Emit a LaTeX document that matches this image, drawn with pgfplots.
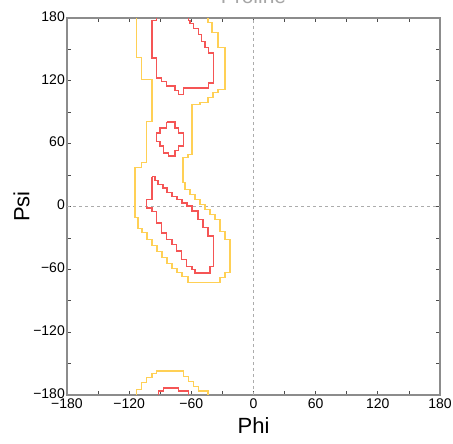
\documentclass[border=0pt]{standalone}
\usepackage{pgfplots}
\pgfplotsset{compat=1.18}
\usepackage{fontspec}
\setmainfont{Liberation Sans}
\definecolor{ycont}{RGB}{255,208,85}
\definecolor{rcont}{RGB}{245,85,85}
\definecolor{frame}{RGB}{140,140,140}

\begin{document}
\begin{tikzpicture}
\begin{axis}[
  scale only axis,
  width=373pt, height=377pt,
  xmin=-180, xmax=180, ymin=-180, ymax=180,
  xtick={-180,-150,...,180},
  ytick={-180,-150,...,180},
  xticklabels={−180,,−120,,−60,,0,,60,,120,,180},
  yticklabels={−180,,−120,,−60,,0,,60,,120,,180},
  tick label style={font=\fontsize{14}{15}\selectfont},
  xticklabel style={inner sep=1pt, yshift=-2.5pt},
  yticklabel style={inner sep=2pt, yshift=1.5pt},
  xlabel={Phi}, ylabel={Psi},
  label style={font=\fontsize{22}{24}\selectfont},
  xlabel style={at={(axis description cs:0.5,-0.08)}, anchor=center},
  ylabel style={at={(axis description cs:-0.122,0.5)}, anchor=center},
  axis line style={frame, line width=1.1pt},
  major tick length=4pt,
  tick style={black!70, line width=0.8pt},
]
% zero lines
\addplot[gray!65, dashed, line width=0.8pt] coordinates {(0,-180) (0,180)};
\addplot[gray!65, dashed, line width=0.8pt] coordinates {(-180,0) (180,0)};

% outer contour (yellow)
\addplot[ycont, line width=1.5pt] coordinates {
(-112.7,180) (-112.7,142.3) (-107.9,142.3) (-107.9,121.3) (-98.2,121.3) (-98.2,81.4)
(-103.1,81.4) (-103.1,42.0) (-107.9,42.0) (-107.9,37.2) (-114.4,37.2) (-114.4,-10.5)
(-111.5,-10.5) (-111.5,-21.0) (-107.6,-21.0) (-107.6,-24.9) (-102.8,-24.9) (-102.8,-31.6)
(-98.0,-31.6) (-98.0,-37.3) (-93.1,-37.3) (-93.1,-43.0) (-88.3,-43.0) (-88.3,-48.8)
(-83.5,-48.8) (-83.5,-54.5) (-78.6,-54.5) (-78.6,-59.3) (-73.8,-59.3) (-73.8,-63.1)
(-69.0,-63.1) (-69.0,-66.9) (-63.2,-66.9) (-63.2,-72.6) (-32.3,-72.6) (-32.3,-67.8)
(-27.5,-67.8) (-27.5,-63.1) (-22.7,-63.1) (-22.7,-31.6) (-27.5,-31.6) (-27.5,-23.9)
(-32.3,-23.9) (-32.3,-12.5) (-37.1,-12.5) (-37.1,-7.7) (-42.0,-7.7) (-42.0,-2.9)
(-46.8,-2.9) (-46.8,1.9) (-51.6,1.9) (-51.6,6.6) (-56.4,6.6) (-56.4,11.4)
(-61.3,11.4) (-61.3,16.2) (-66.1,16.2) (-66.1,22.9) (-68.0,22.9) (-68.0,46.8)
(-63.2,46.8) (-63.2,49.6) (-59.3,49.6) (-59.3,97.4) (-51.6,97.4) (-51.6,99.3)
(-43.9,99.3) (-43.9,104.1) (-39.1,104.1) (-39.1,108.8) (-34.2,108.8) (-34.2,111.7)
(-27.5,111.7) (-27.5,151.8) (-34.2,151.8) (-34.2,166.2) (-40.0,166.2) (-40.0,175.7)
(-43.9,175.7) (-43.9,180)
};
\addplot[ycont, line width=1.5pt] coordinates {
(-112.7,-180) (-112.7,-174.8) (-107.9,-174.8) (-107.9,-168.1) (-103.1,-168.1) (-103.1,-163.4)
(-98.2,-163.4) (-98.2,-159.5) (-93.4,-159.5) (-93.4,-157.3) (-67.7,-157.3) (-67.7,-162.1)
(-62.9,-162.1) (-62.9,-166.9) (-58.1,-166.9) (-58.1,-171.7) (-53.3,-171.7) (-53.3,-176.4)
(-43.9,-176.4) (-43.9,-180)
};

% inner contour (red)
\addplot[rcont, line width=1.5pt] coordinates {
(-93.4,180) (-93.4,177.6) (-98.2,177.6) (-98.2,142.0) (-93.4,142.0) (-93.4,122.9)
(-88.6,122.9) (-88.6,119.4) (-83.8,119.4) (-83.8,114.9) (-75.7,114.9) (-75.7,110.8)
(-72.6,110.8) (-72.6,106.9) (-67.7,106.9) (-67.7,113.3) (-43.6,113.3) (-43.6,118.1)
(-38.8,118.1) (-38.8,146.8) (-43.6,146.8) (-43.6,151.8) (-46.8,151.8) (-46.8,157.6)
(-50.0,157.6) (-50.0,164.2) (-53.3,164.2) (-53.3,170.0) (-58.1,170.0) (-58.1,174.7)
(-61.3,174.7) (-61.3,177.6) (-62.9,177.6) (-62.9,180)
};
\addplot[rcont, line width=1.5pt] coordinates {
(-91.9,-180) (-91.9,-176.4) (-87.0,-176.4) (-87.0,-173.2) (-72.6,-173.2) (-72.6,-176.4)
(-62.9,-176.4) (-62.9,-180)
};
\addplot[rcont, line width=1.5pt] coordinates {
(-83.8,80.5) (-75.7,80.5) (-75.7,75.1) (-72.6,75.1) (-72.6,70.4) (-67.7,70.4)
(-67.7,57.6) (-72.6,57.6) (-72.6,53.7) (-75.7,53.7) (-75.7,48.0) (-82.2,48.0)
(-82.2,51.3) (-87.0,51.3) (-87.0,57.6) (-90.2,57.6) (-90.2,62.3) (-93.4,62.3)
(-93.4,70.4) (-90.2,70.4) (-90.2,75.1) (-83.8,75.1) (-83.8,80.5)
};
\addplot[rcont, line width=1.5pt] coordinates {
(-98.2,28.6) (-95.1,28.6) (-95.1,24.8) (-92.2,24.8) (-92.2,20.9) (-87.3,20.9)
(-87.3,17.6) (-83.5,17.6) (-83.5,13.3) (-78.6,13.3) (-78.6,9.5) (-73.8,9.5)
(-73.8,6.6) (-69.0,6.6) (-69.0,3.5) (-64.2,3.5) (-64.2,0.3) (-59.3,0.3)
(-59.3,-4.5) (-53.6,-4.5) (-53.6,-12.5) (-48.7,-12.5) (-48.7,-20.1) (-43.9,-20.1)
(-43.9,-28.4) (-38.8,-28.4) (-38.8,-57.3) (-42.0,-57.3) (-42.0,-63.4) (-56.4,-63.4)
(-56.4,-60.2) (-59.6,-60.2) (-59.6,-57.1) (-64.5,-57.1) (-64.5,-50.7) (-69.3,-50.7)
(-69.3,-42.7) (-74.1,-42.7) (-74.1,-36.3) (-78.9,-36.3) (-78.9,-31.6) (-83.8,-31.6)
(-83.8,-25.2) (-88.6,-25.2) (-88.6,-15.6) (-93.4,-15.6) (-93.4,-4.8) (-98.2,-4.8)
(-98.2,-1.3) (-103.1,-1.3) (-103.1,6.6) (-98.2,6.6) (-98.2,28.6)
};
\end{axis}
\node[anchor=base, text=gray!70, font=\fontsize{21}{23}\selectfont]
  at ([yshift=14pt]current axis.north) {Proline};
\pgfresetboundingbox
\useasboundingbox ([shift={(-67pt,-48pt)}]current axis.south west)
  rectangle ([shift={(13pt,18pt)}]current axis.north east);
\end{tikzpicture}
\end{document}
